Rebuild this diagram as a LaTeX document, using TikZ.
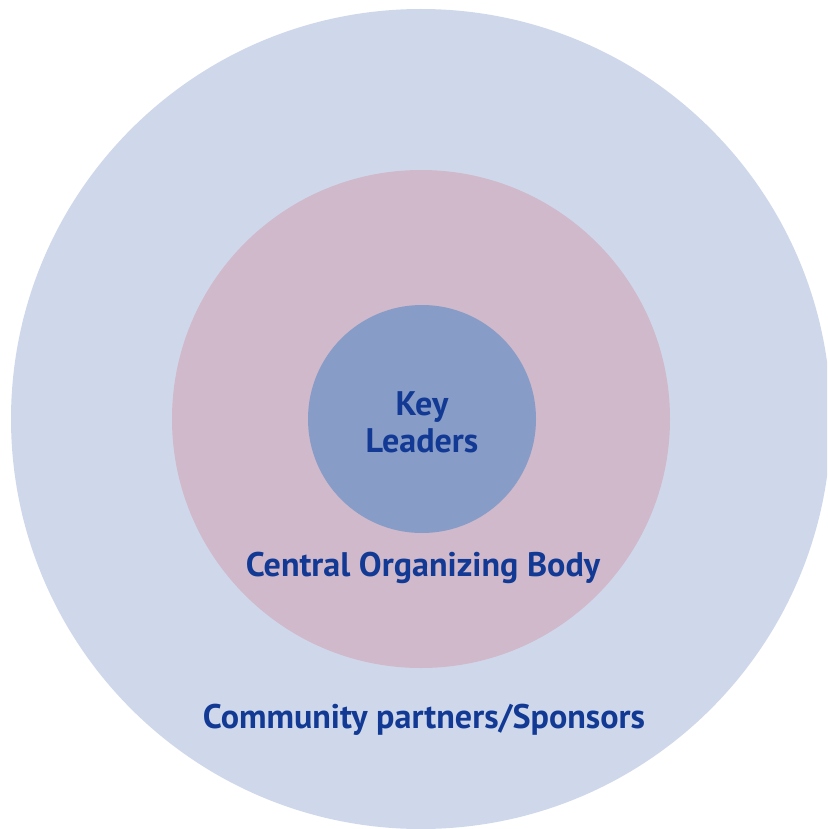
\documentclass[tikz,border=0pt]{standalone}
\usepackage{fontspec}
\setmainfont{PT Sans}
\definecolor{outerblue}{HTML}{CFD8EA}
\definecolor{midpink}{HTML}{CFB9CA}
\definecolor{innerblue}{HTML}{889CC8}
\definecolor{textblue}{HTML}{123A94}
\begin{document}
\begin{tikzpicture}[
        x=1pt,
        y=-1pt,
        font=\bfseries\fontsize{34.1}{36}\selectfont
    ]
    \tikzset{
        ring/.style = {circle, inner sep=0pt, draw=none},
        label/.style = {text=textblue, align=center},
    }
        \useasboundingbox (0,0) rectangle (827,829);
        \clip (0,0) rectangle (827,829);
        %
        \node[ring, fill=outerblue, minimum size=820pt] at (421,419) (outer) {};
        \node[ring, fill=midpink, minimum size=498pt] at (421,419) (middle) {};
        \node[ring, fill=innerblue, minimum size=228pt] at (422,419) (inner) {};
        %
        \node[label] at (422,422) (key) {Key\\[1pt]Leaders};
        \node[label] at (423,568) (cob) {Central Organizing Body};
        \node[label] at (424,720) (cps) {Community partners/Sponsors};
    \end{tikzpicture}
\end{document}
